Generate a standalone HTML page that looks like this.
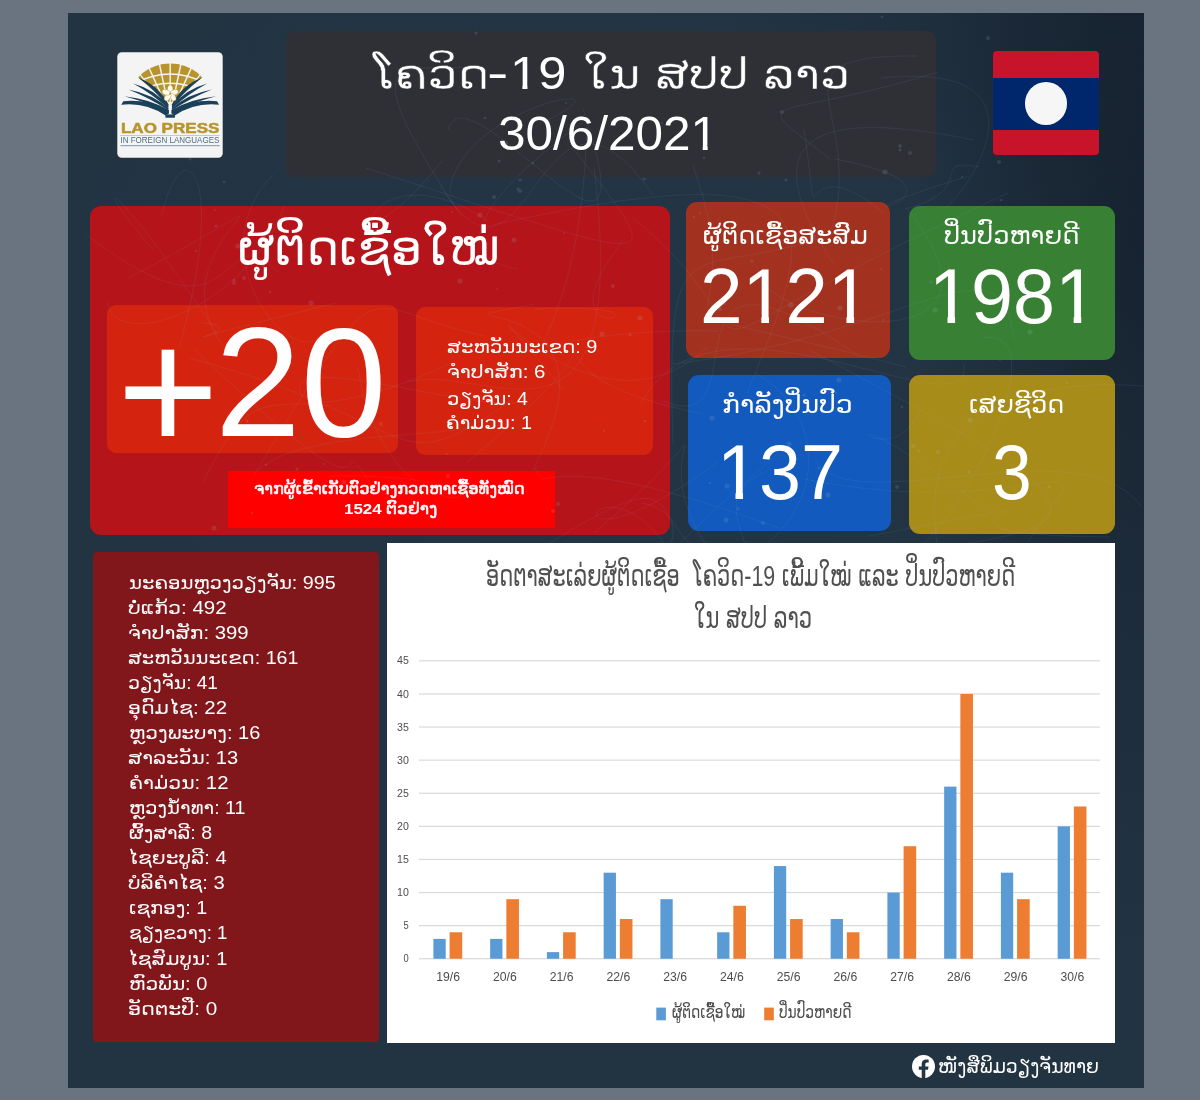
<!DOCTYPE html>
<html lang="lo">
<head>
<meta charset="utf-8">
<title>ໂຄວິດ-19 ໃນ ສປປ ລາວ 30/6/2021</title>
<style>
*{margin:0;padding:0;box-sizing:border-box}
html,body{width:1200px;height:1100px;overflow:hidden}
body{background:#6a7481;font-family:"Liberation Sans","DejaVu Sans",sans-serif;color:#fff;position:relative}
.abs{position:absolute}
.t{position:absolute;white-space:nowrap;line-height:1;transform-origin:0 0}
.lao{font-family:"DejaVu Sans",sans-serif}
.lat{font-family:"Liberation Sans",sans-serif}
.o{display:inline-block;clip-path:polygon(0 0,100% 0,100% 75%,.345em 75%,.345em 100%,.245em 100%,.245em 75%,0 75%)}
#panel{left:68px;top:13px;width:1076px;height:1075px;background:#223342;overflow:hidden}
#panel .glow{position:absolute;left:0;top:0;width:100%;height:100%;
 background:radial-gradient(ellipse 520px 420px at 500px 300px,rgba(60,90,125,.06),rgba(36,53,70,0) 100%),
 radial-gradient(ellipse 230px 720px at 100% 22%,rgba(14,22,34,.5),rgba(14,22,34,0) 100%),
 linear-gradient(225deg,rgba(18,28,42,.4) 0,rgba(18,28,42,0) 20%)}
#titlebox{left:285.5px;top:30.5px;width:650px;height:146px;background:#2f3036;border-radius:9px}
#logo{left:117px;top:52px;width:106px;height:106px}
#flag{left:993px;top:51px;width:106px;height:104px;border-radius:4px;overflow:hidden;background:#c8142a}
#flag i{position:absolute;left:0;top:26.5px;width:100%;height:52.5px;background:#00266b}
#flag b{position:absolute;left:31.75px;top:31.25px;width:42.5px;height:42.5px;border-radius:50%;background:#f6f6f6}
#newbox{left:90px;top:206px;width:580px;height:328.5px;background:#b5141b;border-radius:11px}
#plus{left:107px;top:305px;width:291px;height:148px;background:#d4240f;border-radius:9px}
#nlist{left:416px;top:307px;width:236.5px;height:147.5px;background:#d4240f;border-radius:9px}
#tested{left:228px;top:471px;width:327px;height:57px;background:#fe0000}
.stat{border-radius:11px}
#s1{left:686px;top:202px;width:204px;height:156px;background:#a2321f}
#s2{left:909px;top:206px;width:206px;height:154px;background:#388034}
#s3{left:688px;top:375px;width:203px;height:156px;background:#125abd}
#s4{left:909px;top:375px;width:206px;height:159px;background:#a88c1a}
#prov{left:93px;top:552px;width:286px;height:490px;background:#81161b;border-radius:4px}
#chart{left:387px;top:543px;width:728px;height:499.5px;background:#fff}
#fb{left:911.5px;top:1054.75px;width:23px;height:23px}
</style>
</head>
<body>
<div id="panel" class="abs"><div class="glow"></div></div>
<div id="titlebox" class="abs"></div>

<div id="newbox" class="abs"></div>
<div id="plus" class="abs"></div>
<div id="nlist" class="abs"></div>
<div id="tested" class="abs"></div>
<div id="s1" class="abs stat"></div>
<div id="s2" class="abs stat"></div>
<div id="s3" class="abs stat"></div>
<div id="s4" class="abs stat"></div>
<div id="prov" class="abs"></div>
<svg class="abs" style="left:68px;top:13px" width="1076" height="1075" viewBox="68 13 1076 1075" fill="none">
<path d="M532 471C639 274 390 333 535 304 M708 347C581 466 424 215 563 390 M493 225C868 141 806 242 747 394 M703 414C454 364 692 277 466 463 M535 309C714 300 523 366 625 238 M407 382C487 361 633 486 594 167 M587 127C577 437 439 325 719 331 M1014 339C1000 228 914 336 672 364 M633 218C808 363 609 377 1008 193 M693 166C765 365 591 285 906 367 M860 357C642 203 768 443 663 401 M964 364C973 440 714 267 641 403 M673 444C665 197 692 294 852 226 M758 269C757 325 1037 373 908 210 M366 168C680 270 670 275 570 144 M462 217C345 42 404 72 472 67 M488 221C361 136 330 300 442 161 M448 130C466 59 660 338 583 109 M450 192C457 105 652 72 541 123 M653 195C537 29 531 333 440 185 M583 122C387 267 533 269 517 269 M897 552C1121 528 1107 507 809 350 M996 517C791 359 884 492 921 409 M1164 389C1162 387 868 343 948 587 M1028 541C1116 423 1041 526 804 479 M1141 506C1080 423 851 523 815 460 M883 566C941 573 1070 324 982 338 M1110 537C838 534 1172 480 869 536 M329 476C587 473 392 573 358 368 M203 482C271 347 266 450 449 364 M375 489C316 405 417 562 194 349 M254 475C390 251 354 308 484 336 M473 422C479 440 303 426 257 471 M303 398C269 341 500 423 530 398 M189 358C430 422 385 488 512 400 M579 550C780 640 877 443 755 373 M535 468C549 501 529 437 779 528 M852 580C562 589 764 406 521 561 M767 471C659 516 896 626 585 645 M770 610C578 462 789 366 594 533 M641 503C750 524 526 675 773 458 M718 462C516 609 608 401 695 598 M107 302C118 357 253 301 284 206 M336 303C93 362 273 327 202 323 M278 272C215 209 247 359 87 235 M218 335C105 163 86 174 155 252 M179 348C230 168 181 127 162 215 M230 354C131 244 369 149 127 279 M273 175C196 252 290 374 324 334 M830 235C870 111 757 55 917 56 M969 176C767 237 1019 194 835 159 M884 213C790 136 824 268 804 129 M974 140C839 113 740 120 833 263 M830 159C742 90 769 124 938 72 M979 167C927 157 980 190 905 209 M881 78C1055 60 972 187 946 207" stroke="#9bb8de" stroke-opacity=".085" stroke-width="1"/>
<g fill="#a9c4e6" fill-opacity=".14"><circle cx="839" cy="380" r="2.6"/><circle cx="480" cy="215" r="2.6"/><circle cx="712" cy="418" r="2.6"/><circle cx="418" cy="256" r="1"/><circle cx="694" cy="217" r="1.3"/><circle cx="630" cy="335" r="1.6"/><circle cx="720" cy="309" r="2"/><circle cx="460" cy="281" r="2.6"/><circle cx="564" cy="233" r="1"/><circle cx="602" cy="334" r="2.6"/><circle cx="640" cy="318" r="2.6"/><circle cx="804" cy="395" r="1.6"/><circle cx="704" cy="158" r="1.3"/><circle cx="613" cy="286" r="2"/><circle cx="724" cy="303" r="2"/><circle cx="881" cy="269" r="1"/><circle cx="700" cy="213" r="1"/><circle cx="752" cy="261" r="1.6"/><circle cx="796" cy="281" r="2"/><circle cx="883" cy="320" r="1"/><circle cx="759" cy="173" r="1.6"/><circle cx="802" cy="244" r="2"/><circle cx="791" cy="305" r="2.6"/><circle cx="897" cy="487" r="2"/><circle cx="935" cy="310" r="2.6"/><circle cx="931" cy="282" r="1.6"/><circle cx="645" cy="421" r="1.3"/><circle cx="840" cy="308" r="2.6"/><circle cx="514" cy="240" r="2.6"/><circle cx="566" cy="103" r="1"/><circle cx="506" cy="143" r="2"/><circle cx="494" cy="197" r="2"/><circle cx="485" cy="118" r="1.3"/><circle cx="452" cy="212" r="1"/><circle cx="520" cy="180" r="1.6"/><circle cx="533" cy="163" r="1.3"/><circle cx="476" cy="33" r="1.6"/><circle cx="520" cy="191" r="2"/><circle cx="644" cy="179" r="1.6"/><circle cx="662" cy="123" r="1"/><circle cx="518" cy="189" r="1.6"/><circle cx="499" cy="161" r="1.6"/><circle cx="919" cy="451" r="1.6"/><circle cx="1000" cy="360" r="1"/><circle cx="1030" cy="332" r="2.6"/><circle cx="836" cy="393" r="1"/><circle cx="1059" cy="402" r="2.6"/><circle cx="982" cy="322" r="1.6"/><circle cx="789" cy="444" r="2.6"/><circle cx="1049" cy="487" r="1.6"/><circle cx="969" cy="472" r="1.6"/><circle cx="938" cy="452" r="2"/><circle cx="902" cy="407" r="1.3"/><circle cx="970" cy="420" r="2.6"/><circle cx="1067" cy="383" r="1.3"/><circle cx="913" cy="446" r="2"/><circle cx="266" cy="465" r="1.3"/><circle cx="447" cy="454" r="1"/><circle cx="344" cy="482" r="2.6"/><circle cx="381" cy="424" r="2"/><circle cx="252" cy="513" r="1.3"/><circle cx="324" cy="464" r="1"/><circle cx="247" cy="421" r="1.6"/><circle cx="462" cy="486" r="1.3"/><circle cx="553" cy="511" r="2"/><circle cx="297" cy="469" r="1.6"/><circle cx="497" cy="289" r="1"/><circle cx="448" cy="476" r="2"/><circle cx="491" cy="402" r="1"/><circle cx="214" cy="528" r="2.6"/><circle cx="826" cy="391" r="1.3"/><circle cx="710" cy="483" r="1.3"/><circle cx="558" cy="504" r="2"/><circle cx="726" cy="520" r="2.6"/><circle cx="819" cy="468" r="1.6"/><circle cx="828" cy="495" r="2.6"/><circle cx="604" cy="431" r="1"/><circle cx="738" cy="509" r="1.6"/><circle cx="763" cy="523" r="2"/><circle cx="727" cy="486" r="2.6"/><circle cx="234" cy="283" r="2"/><circle cx="215" cy="210" r="1"/><circle cx="281" cy="362" r="2"/><circle cx="263" cy="265" r="2"/><circle cx="264" cy="236" r="1"/><circle cx="190" cy="159" r="1.6"/><circle cx="216" cy="226" r="1.6"/><circle cx="224" cy="182" r="1.3"/><circle cx="196" cy="251" r="1.3"/><circle cx="234" cy="280" r="1.6"/><circle cx="311" cy="303" r="2.6"/><circle cx="244" cy="278" r="2"/><circle cx="238" cy="246" r="2.6"/><circle cx="270" cy="292" r="1.3"/><circle cx="999" cy="162" r="2"/><circle cx="910" cy="153" r="2"/><circle cx="786" cy="180" r="1.6"/><circle cx="882" cy="17" r="1.3"/><circle cx="885" cy="172" r="2.6"/><circle cx="900" cy="146" r="2"/><circle cx="988" cy="38" r="2"/><circle cx="900" cy="150" r="1.6"/><circle cx="962" cy="177" r="1"/><circle cx="782" cy="112" r="2"/><circle cx="814" cy="237" r="2"/><circle cx="1001" cy="200" r="1.3"/><circle cx="792" cy="239" r="1.3"/><circle cx="845" cy="239" r="2"/></g>
</svg>
<div id="chart" class="abs"></div>
<div id="logo" class="abs"><svg width="106" height="106" viewBox="0 0 106 106">
<rect x="0.3" y="0.3" width="105.4" height="105.4" rx="4.5" fill="#f4f4f4"/>
<g transform="scale(0.10366) translate(-47,-38)">
<clipPath id="gc"><path d="M230 120 L890 120 L890 262 L598 520 L522 520 L230 262 Z"/></clipPath>
<g clip-path="url(#gc)">
<ellipse cx="560" cy="455" rx="372" ry="305" fill="#b8952c"/>
<line x1="560" y1="640" x2="24" y2="190" stroke="#f4f4f4" stroke-width="12"/>
<line x1="560" y1="640" x2="139" y2="81" stroke="#f4f4f4" stroke-width="12"/>
<line x1="560" y1="640" x2="270" y2="3" stroke="#f4f4f4" stroke-width="14"/>
<line x1="560" y1="640" x2="414" y2="-45" stroke="#f4f4f4" stroke-width="14"/>
<line x1="560" y1="640" x2="560" y2="-60" stroke="#f4f4f4" stroke-width="14"/>
<line x1="560" y1="640" x2="706" y2="-45" stroke="#f4f4f4" stroke-width="14"/>
<line x1="560" y1="640" x2="850" y2="3" stroke="#f4f4f4" stroke-width="14"/>
<line x1="560" y1="640" x2="981" y2="81" stroke="#f4f4f4" stroke-width="12"/>
<line x1="560" y1="640" x2="1096" y2="190" stroke="#f4f4f4" stroke-width="12"/>
<path d="M230 335 Q560 165 890 335" fill="none" stroke="#f4f4f4" stroke-width="15"/>
<path d="M230 425 Q560 255 890 425" fill="none" stroke="#f4f4f4" stroke-width="15"/>
</g>
<path d="M250 283 Q450 358 546 548 L538 563 Q412 402 250 283 Z" fill="#1b4059"/>
<path d="M870 283 Q670 358 574 548 L582 563 Q708 402 870 283 Z" fill="#1b4059"/>
<path d="M203 343 Q420 402 546 565 L538 580 Q384 442 203 343 Z" fill="#1b4059"/>
<path d="M917 343 Q700 402 574 565 L582 580 Q736 442 917 343 Z" fill="#1b4059"/>
<path d="M158 400 Q392 445 546 582 L538 597 Q358 481 158 400 Z" fill="#1b4059"/>
<path d="M962 400 Q728 445 574 582 L582 597 Q762 481 962 400 Z" fill="#1b4059"/>
<path d="M118 465 Q366 492 546 599 L538 614 Q334 524 118 465 Z" fill="#1b4059"/>
<path d="M1002 465 Q754 492 574 599 L582 614 Q786 524 1002 465 Z" fill="#1b4059"/>
<path d="M108 512 Q330 490 548 598 L548 632 L516 650 Q320 520 88 546 Z" fill="#1b4059"/>
<path d="M1012 512 Q790 490 572 598 L572 632 L604 650 Q800 520 1032 546 Z" fill="#1b4059"/>
<rect x="514" y="640" width="92" height="32" fill="#1b4059"/>
<path d="M548 560 L560 600 L572 560 Z" fill="#f4f4f4"/>
<ellipse cx="560" cy="400" rx="26" ry="42" transform="rotate(0 560 440)" fill="#fbfaf3" stroke="#b8952c" stroke-width="4"/>
<ellipse cx="560" cy="400" rx="26" ry="42" transform="rotate(72 560 440)" fill="#fbfaf3" stroke="#b8952c" stroke-width="4"/>
<ellipse cx="560" cy="400" rx="26" ry="42" transform="rotate(144 560 440)" fill="#fbfaf3" stroke="#b8952c" stroke-width="4"/>
<ellipse cx="560" cy="400" rx="26" ry="42" transform="rotate(216 560 440)" fill="#fbfaf3" stroke="#b8952c" stroke-width="4"/>
<ellipse cx="560" cy="400" rx="26" ry="42" transform="rotate(288 560 440)" fill="#fbfaf3" stroke="#b8952c" stroke-width="4"/>
<circle cx="560" cy="440" r="9" fill="#b8952c"/>
<text x="85" y="815" font-family="'Liberation Sans',sans-serif" font-weight="bold" font-size="139" fill="#b8952c" stroke="#b8952c" stroke-width="5" textLength="950" lengthAdjust="spacingAndGlyphs">LAO PRESS</text>
<rect x="80" y="840" width="957" height="5" fill="#8ba1b1"/>
<text x="80" y="920" font-family="'Liberation Sans',sans-serif" font-size="84" fill="#4e6d82" textLength="955" lengthAdjust="spacingAndGlyphs">IN FOREIGN LANGUAGES</text>
<rect x="80" y="936" width="957" height="11" fill="#8ba1b1"/>
</g></svg></div>
<div id="flag" class="abs"><i></i><b></b></div>
<svg class="abs" style="left:387px;top:543px" width="728" height="500" viewBox="387 543 728 500">
<rect x="419" y="958.15" width="681" height="1.2" fill="#d9d9d9"/>
<text x="408.8" y="962.35" text-anchor="end" font-family="'Liberation Sans',sans-serif" font-size="11.6" fill="#4d4d4d" textLength="5.2" lengthAdjust="spacingAndGlyphs">0</text>
<rect x="419" y="925.05" width="681" height="1.2" fill="#d9d9d9"/>
<text x="408.8" y="929.25" text-anchor="end" font-family="'Liberation Sans',sans-serif" font-size="11.6" fill="#4d4d4d" textLength="5.2" lengthAdjust="spacingAndGlyphs">5</text>
<rect x="419" y="891.95" width="681" height="1.2" fill="#d9d9d9"/>
<text x="408.8" y="896.15" text-anchor="end" font-family="'Liberation Sans',sans-serif" font-size="11.6" fill="#4d4d4d" textLength="11.8" lengthAdjust="spacingAndGlyphs">10</text>
<rect x="419" y="858.85" width="681" height="1.2" fill="#d9d9d9"/>
<text x="408.8" y="863.05" text-anchor="end" font-family="'Liberation Sans',sans-serif" font-size="11.6" fill="#4d4d4d" textLength="11.8" lengthAdjust="spacingAndGlyphs">15</text>
<rect x="419" y="825.75" width="681" height="1.2" fill="#d9d9d9"/>
<text x="408.8" y="829.95" text-anchor="end" font-family="'Liberation Sans',sans-serif" font-size="11.6" fill="#4d4d4d" textLength="11.8" lengthAdjust="spacingAndGlyphs">20</text>
<rect x="419" y="792.65" width="681" height="1.2" fill="#d9d9d9"/>
<text x="408.8" y="796.85" text-anchor="end" font-family="'Liberation Sans',sans-serif" font-size="11.6" fill="#4d4d4d" textLength="11.8" lengthAdjust="spacingAndGlyphs">25</text>
<rect x="419" y="759.55" width="681" height="1.2" fill="#d9d9d9"/>
<text x="408.8" y="763.75" text-anchor="end" font-family="'Liberation Sans',sans-serif" font-size="11.6" fill="#4d4d4d" textLength="11.8" lengthAdjust="spacingAndGlyphs">30</text>
<rect x="419" y="726.45" width="681" height="1.2" fill="#d9d9d9"/>
<text x="408.8" y="730.65" text-anchor="end" font-family="'Liberation Sans',sans-serif" font-size="11.6" fill="#4d4d4d" textLength="11.8" lengthAdjust="spacingAndGlyphs">35</text>
<rect x="419" y="693.35" width="681" height="1.2" fill="#d9d9d9"/>
<text x="408.8" y="697.55" text-anchor="end" font-family="'Liberation Sans',sans-serif" font-size="11.6" fill="#4d4d4d" textLength="11.8" lengthAdjust="spacingAndGlyphs">40</text>
<rect x="419" y="660.25" width="681" height="1.2" fill="#d9d9d9"/>
<text x="408.8" y="664.45" text-anchor="end" font-family="'Liberation Sans',sans-serif" font-size="11.6" fill="#4d4d4d" textLength="11.8" lengthAdjust="spacingAndGlyphs">45</text>
<rect x="433.40" y="938.89" width="12.3" height="19.86" fill="#5b9bd5"/>
<rect x="449.60" y="932.27" width="12.6" height="26.48" fill="#ed7d31"/>
<text x="448.18" y="981.4" text-anchor="middle" font-family="'Liberation Sans',sans-serif" font-size="12.2" fill="#4d4d4d">19/6</text>
<rect x="490.15" y="938.89" width="12.3" height="19.86" fill="#5b9bd5"/>
<rect x="506.35" y="899.17" width="12.6" height="59.58" fill="#ed7d31"/>
<text x="504.93" y="981.4" text-anchor="middle" font-family="'Liberation Sans',sans-serif" font-size="12.2" fill="#4d4d4d">20/6</text>
<rect x="546.90" y="952.13" width="12.3" height="6.62" fill="#5b9bd5"/>
<rect x="563.10" y="932.27" width="12.6" height="26.48" fill="#ed7d31"/>
<text x="561.67" y="981.4" text-anchor="middle" font-family="'Liberation Sans',sans-serif" font-size="12.2" fill="#4d4d4d">21/6</text>
<rect x="603.65" y="872.69" width="12.3" height="86.06" fill="#5b9bd5"/>
<rect x="619.85" y="919.03" width="12.6" height="39.72" fill="#ed7d31"/>
<text x="618.42" y="981.4" text-anchor="middle" font-family="'Liberation Sans',sans-serif" font-size="12.2" fill="#4d4d4d">22/6</text>
<rect x="660.40" y="899.17" width="12.3" height="59.58" fill="#5b9bd5"/>
<text x="675.17" y="981.4" text-anchor="middle" font-family="'Liberation Sans',sans-serif" font-size="12.2" fill="#4d4d4d">23/6</text>
<rect x="717.15" y="932.27" width="12.3" height="26.48" fill="#5b9bd5"/>
<rect x="733.35" y="905.79" width="12.6" height="52.96" fill="#ed7d31"/>
<text x="731.92" y="981.4" text-anchor="middle" font-family="'Liberation Sans',sans-serif" font-size="12.2" fill="#4d4d4d">24/6</text>
<rect x="773.90" y="866.07" width="12.3" height="92.68" fill="#5b9bd5"/>
<rect x="790.10" y="919.03" width="12.6" height="39.72" fill="#ed7d31"/>
<text x="788.67" y="981.4" text-anchor="middle" font-family="'Liberation Sans',sans-serif" font-size="12.2" fill="#4d4d4d">25/6</text>
<rect x="830.65" y="919.03" width="12.3" height="39.72" fill="#5b9bd5"/>
<rect x="846.85" y="932.27" width="12.6" height="26.48" fill="#ed7d31"/>
<text x="845.42" y="981.4" text-anchor="middle" font-family="'Liberation Sans',sans-serif" font-size="12.2" fill="#4d4d4d">26/6</text>
<rect x="887.40" y="892.55" width="12.3" height="66.20" fill="#5b9bd5"/>
<rect x="903.60" y="846.21" width="12.6" height="112.54" fill="#ed7d31"/>
<text x="902.17" y="981.4" text-anchor="middle" font-family="'Liberation Sans',sans-serif" font-size="12.2" fill="#4d4d4d">27/6</text>
<rect x="944.15" y="786.63" width="12.3" height="172.12" fill="#5b9bd5"/>
<rect x="960.35" y="693.95" width="12.6" height="264.80" fill="#ed7d31"/>
<text x="958.92" y="981.4" text-anchor="middle" font-family="'Liberation Sans',sans-serif" font-size="12.2" fill="#4d4d4d">28/6</text>
<rect x="1000.90" y="872.69" width="12.3" height="86.06" fill="#5b9bd5"/>
<rect x="1017.10" y="899.17" width="12.6" height="59.58" fill="#ed7d31"/>
<text x="1015.67" y="981.4" text-anchor="middle" font-family="'Liberation Sans',sans-serif" font-size="12.2" fill="#4d4d4d">29/6</text>
<rect x="1057.65" y="826.35" width="12.3" height="132.40" fill="#5b9bd5"/>
<rect x="1073.85" y="806.49" width="12.6" height="152.26" fill="#ed7d31"/>
<text x="1072.42" y="981.4" text-anchor="middle" font-family="'Liberation Sans',sans-serif" font-size="12.2" fill="#4d4d4d">30/6</text>
<rect x="656.3" y="1007.6" width="9.6" height="12.7" fill="#5b9bd5"/>
<rect x="764.2" y="1007.6" width="9.6" height="12.7" fill="#ed7d31"/>
</svg>
<svg id="fb" class="abs" viewBox="0 0 24 24"><circle cx="12" cy="12" r="12" fill="#fff"/><path d="M16.7 15.5l.55-3.5h-3.35V9.75c0-.95.47-1.9 1.98-1.9h1.52V4.9s-1.38-.24-2.7-.24c-2.76 0-4.56 1.67-4.56 4.7V12H7.1v3.5h3.04V24h3.76v-8.5z" fill="#243546"/></svg>
<div id="t1a" class="t" style="left:373.06px;top:54.41px;font-family:'DejaVu Sans',sans-serif;font-size:42px;-webkit-text-stroke:.5px #2f3036;transform:scaleX(1.1313)">ໂຄວິດ</div>
<div id="t1b" class="t" style="left:487.15px;top:50.40px;font-family:'Liberation Sans',sans-serif;font-size:46px;transform:scaleX(1.3966)">-</div>
<div id="t1d" class="t" style="left:509.78px;top:50.40px;font-family:'Liberation Sans',sans-serif;font-size:46px;transform:scaleX(1.1002)"><span class="o">1</span>9</div>
<div id="t1c" class="t" style="left:583.14px;top:54.41px;font-family:'DejaVu Sans',sans-serif;font-size:42px;-webkit-text-stroke:.5px #2f3036;transform:scaleX(1.1329)">ໃນ ສປປ ລາວ</div>
<div id="t2" class="t" style="left:497.80px;top:110.21px;font-family:'Liberation Sans',sans-serif;font-size:47.5px;transform:scaleX(1.0416)">30/6/202<span class="o">1</span></div>
<div id="h1" class="t" style="left:238.22px;top:223.50px;font-family:'DejaVu Sans',sans-serif;font-size:49px;transform:scaleX(1.0029)">ຜູ້ຕິດເຊື້ອໃໝ່</div>
<div id="bigp" class="t" style="left:116.58px;top:302.76px;font-family:'Liberation Sans',sans-serif;font-size:176px;transform:scaleX(0.9923)">+</div>
<div id="big" class="t" style="left:214.78px;top:304.51px;font-family:'Liberation Sans',sans-serif;font-size:155px;transform:scaleX(0.9951)">20</div>
<div id="n0" class="t" style="left:446.69px;top:338.20px;font-family:'Liberation Sans',sans-serif;font-size:17.8px;transform:scaleX(1.1158)"><span class="lao">ສະຫວັນນະເຂດ</span>: 9</div>
<div id="n1" class="t" style="left:446.51px;top:363.26px;font-family:'Liberation Sans',sans-serif;font-size:17.8px;transform:scaleX(1.1488)"><span class="lao">ຈຳປາສັກ</span>: 6</div>
<div id="n2" class="t" style="left:446.72px;top:389.82px;font-family:'Liberation Sans',sans-serif;font-size:17.8px;transform:scaleX(1.0881)"><span class="lao">ວຽງຈັນ</span>: 4</div>
<div id="n3" class="t" style="left:446.45px;top:414.26px;font-family:'Liberation Sans',sans-serif;font-size:17.8px;transform:scaleX(1.1162)"><span class="lao">ຄຳມ່ວນ</span>: 1</div>
<div id="tl1" class="t" style="left:254.42px;top:480.51px;font-family:'DejaVu Sans',sans-serif;font-size:16px;-webkit-text-stroke:.55px #fff;transform:scaleX(1.0132)">ຈາກຜູ້ເຂົ້າເກັບຕົວຢ່າງກວດຫາເຊື້ອທັງໝົດ</div>
<div id="tl2a" class="t" style="left:344.38px;top:500.61px;font-family:'Liberation Sans',sans-serif;font-size:15.4px;font-weight:bold;transform:scaleX(1.0995)">1524</div>
<div id="tl2b" class="t" style="left:385.78px;top:500.60px;font-family:'DejaVu Sans',sans-serif;font-size:16px;-webkit-text-stroke:.55px #fff;transform:scaleX(1.0756)">ຕົວຢ່າງ</div>
<div id="sl1" class="t" style="left:702.74px;top:224.20px;font-family:'DejaVu Sans',sans-serif;font-size:24.5px;transform:scaleX(1.0377)">ຜູ້ຕິດເຊື້ອສະສົມ</div>
<div id="sl2" class="t" style="left:944.46px;top:224.20px;font-family:'DejaVu Sans',sans-serif;font-size:24.5px;transform:scaleX(1.0522)">ປິ່ນປົວຫາຍດີ</div>
<div id="sl3" class="t" style="left:721.84px;top:392.70px;font-family:'DejaVu Sans',sans-serif;font-size:24.5px;transform:scaleX(1.0932)">ກຳລັງປິ່ນປົວ</div>
<div id="sl4" class="t" style="left:969.08px;top:392.70px;font-family:'DejaVu Sans',sans-serif;font-size:24.5px;transform:scaleX(1.0367)">ເສຍຊີວິດ</div>
<div id="sn1" class="t" style="left:699.72px;top:258.00px;font-family:'Liberation Sans',sans-serif;font-size:77px;transform:scaleX(0.9940)">2<span class="o">1</span>2<span class="o">1</span></div>
<div id="sn2" class="t" style="left:928.74px;top:257.70px;font-family:'Liberation Sans',sans-serif;font-size:77px;transform:scaleX(0.9818)"><span class="o">1</span>98<span class="o">1</span></div>
<div id="sn3" class="t" style="left:716.89px;top:433.70px;font-family:'Liberation Sans',sans-serif;font-size:77px;transform:scaleX(0.9804)"><span class="o">1</span>37</div>
<div id="sn4" class="t" style="left:992.04px;top:433.70px;font-family:'Liberation Sans',sans-serif;font-size:77px;transform:scaleX(0.9279)">3</div>
<div id="p0" class="t" style="left:129.04px;top:573.61px;font-family:'Liberation Sans',sans-serif;font-size:18.2px;transform:scaleX(1.0829)"><span class="lao">ນະຄອນຫຼວງວຽງຈັນ</span>: 995</div>
<div id="p1" class="t" style="left:128.10px;top:598.67px;font-family:'Liberation Sans',sans-serif;font-size:18.2px;transform:scaleX(1.1284)"><span class="lao">ບໍ່ແກ້ວ</span>: 492</div>
<div id="p2" class="t" style="left:128.21px;top:623.73px;font-family:'Liberation Sans',sans-serif;font-size:18.2px;transform:scaleX(1.1185)"><span class="lao">ຈຳປາສັກ</span>: 399</div>
<div id="p3" class="t" style="left:128.12px;top:648.78px;font-family:'Liberation Sans',sans-serif;font-size:18.2px;transform:scaleX(1.0779)"><span class="lao">ສະຫວັນນະເຂດ</span>: 161</div>
<div id="p4" class="t" style="left:128.45px;top:673.85px;font-family:'Liberation Sans',sans-serif;font-size:18.2px;transform:scaleX(1.0443)"><span class="lao">ວຽງຈັນ</span>: 41</div>
<div id="p5" class="t" style="left:128.39px;top:698.90px;font-family:'Liberation Sans',sans-serif;font-size:18.2px;transform:scaleX(1.1231)"><span class="lao">ອຸດົມໄຊ</span>: 22</div>
<div id="p6" class="t" style="left:128.61px;top:723.97px;font-family:'Liberation Sans',sans-serif;font-size:18.2px;transform:scaleX(1.0989)"><span class="lao">ຫຼວງພະບາງ</span>: 16</div>
<div id="p7" class="t" style="left:128.11px;top:749.04px;font-family:'Liberation Sans',sans-serif;font-size:18.2px;transform:scaleX(1.1052)"><span class="lao">ສາລະວັນ</span>: 13</div>
<div id="p8" class="t" style="left:128.55px;top:774.09px;font-family:'Liberation Sans',sans-serif;font-size:18.2px;transform:scaleX(1.1192)"><span class="lao">ຄຳມ່ວນ</span>: 12</div>
<div id="p9" class="t" style="left:128.66px;top:799.14px;font-family:'Liberation Sans',sans-serif;font-size:18.2px;transform:scaleX(1.0824)"><span class="lao">ຫຼວງນ້ຳທາ</span>: 11</div>
<div id="p10" class="t" style="left:129.09px;top:824.21px;font-family:'Liberation Sans',sans-serif;font-size:18.2px;transform:scaleX(1.0810)"><span class="lao">ຜົ້ງສາລີ</span>: 8</div>
<div id="p11" class="t" style="left:127.73px;top:849.26px;font-family:'Liberation Sans',sans-serif;font-size:18.2px;transform:scaleX(1.1124)"><span class="lao">ໄຊຍະບູລີ</span>: 4</div>
<div id="p12" class="t" style="left:128.11px;top:874.33px;font-family:'Liberation Sans',sans-serif;font-size:18.2px;transform:scaleX(1.1105)"><span class="lao">ບໍລິຄຳໄຊ</span>: 3</div>
<div id="p13" class="t" style="left:128.53px;top:899.40px;font-family:'Liberation Sans',sans-serif;font-size:18.2px;transform:scaleX(1.0858)"><span class="lao">ເຊກອງ</span>: 1</div>
<div id="p14" class="t" style="left:128.71px;top:924.45px;font-family:'Liberation Sans',sans-serif;font-size:18.2px;transform:scaleX(1.0253)"><span class="lao">ຊຽງຂວາງ</span>: 1</div>
<div id="p15" class="t" style="left:127.77px;top:949.50px;font-family:'Liberation Sans',sans-serif;font-size:18.2px;transform:scaleX(1.0972)"><span class="lao">ໄຊສົມບູນ</span>: 1</div>
<div id="p16" class="t" style="left:128.59px;top:974.57px;font-family:'Liberation Sans',sans-serif;font-size:18.2px;transform:scaleX(1.1034)"><span class="lao">ຫົວພັນ</span>: 0</div>
<div id="p17" class="t" style="left:128.37px;top:999.62px;font-family:'Liberation Sans',sans-serif;font-size:18.2px;transform:scaleX(1.1376)"><span class="lao">ອັດຕະປື</span>: 0</div>
<div id="ct1" class="t" style="left:485.63px;top:559.91px;font-family:'DejaVu Sans Condensed','DejaVu Sans',sans-serif;font-size:31px;color:#505050;transform:scaleX(0.7490)">ອັດຕາສະເລ່ຍຜູ້ຕິດເຊື້ອ&nbsp; ໂຄວິດ<span class="lat" style="font-size:28.6px">-19</span> ເພີ້ມໃໝ່ ແລະ ປິ່ນປົວຫາຍດີ</div>
<div id="ct2" class="t" style="left:694.06px;top:601.51px;font-family:'DejaVu Sans Condensed','DejaVu Sans',sans-serif;font-size:31px;color:#505050;transform:scaleX(0.7544)">ໃນ ສປປ ລາວ</div>
<div id="lg1" class="t" style="left:671.91px;top:1003.40px;font-family:'DejaVu Sans',sans-serif;font-size:18px;color:#4a4a4a;transform:scaleX(0.7634)">ຜູ້ຕິດເຊື້ອໃໝ່</div>
<div id="lg2" class="t" style="left:778.74px;top:1003.40px;font-family:'DejaVu Sans',sans-serif;font-size:18px;color:#4a4a4a;transform:scaleX(0.7656)">ປິ່ນປົວຫາຍດີ</div>
<div id="ft" class="t" style="left:938.42px;top:1057.00px;font-family:'DejaVu Sans',sans-serif;font-size:19px;transform:scaleX(0.9915)">ໜັງສືພິມວຽງຈັນທາຍ</div>
</body>
</html>
